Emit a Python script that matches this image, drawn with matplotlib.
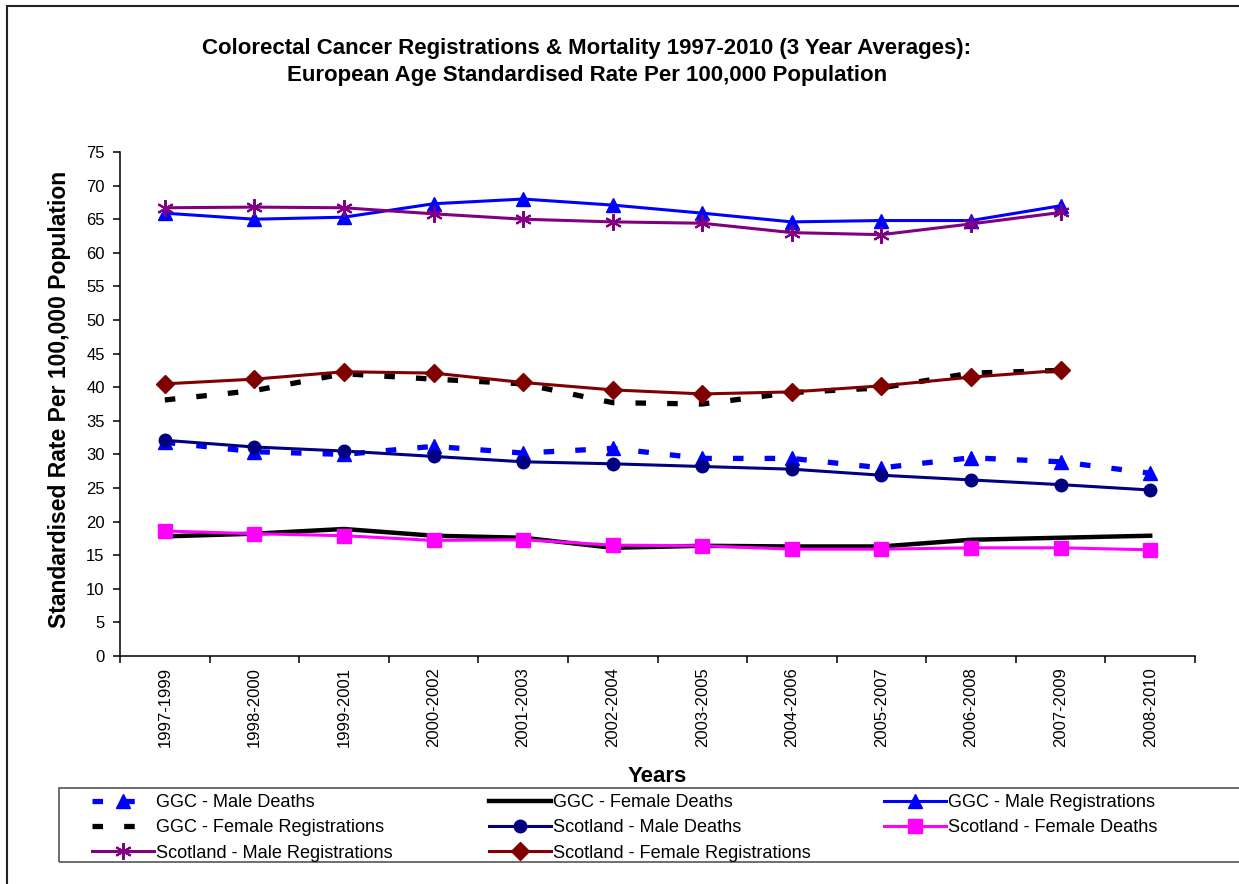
import matplotlib.pyplot as plt
import numpy as np
from matplotlib.patches import Rectangle

plt.rcParams['font.family'] = ['Liberation Sans', 'DejaVu Sans']

years = ['1997-1999', '1998-2000', '1999-2001', '2000-2002', '2001-2003', '2002-2004',
         '2003-2005', '2004-2006', '2005-2007', '2006-2008', '2007-2009', '2008-2010']

ggc_male_deaths = [31.8, 30.4, 30.0, 31.2, 30.2, 30.9, 29.4, 29.4, 28.0, 29.5, 28.9, 27.2]
ggc_female_deaths = [17.8, 18.2, 18.9, 17.9, 17.6, 16.1, 16.4, 16.3, 16.3, 17.3, 17.6, 17.9]
ggc_male_reg = [65.9, 65.0, 65.3, 67.3, 68.0, 67.1, 65.9, 64.6, 64.8, 64.8, 67.0]
ggc_female_reg = [38.1, 39.5, 42.0, 41.2, 40.5, 37.7, 37.5, 39.2, 39.9, 42.1, 42.5]
scot_male_deaths = [32.1, 31.1, 30.5, 29.7, 28.9, 28.6, 28.2, 27.8, 26.9, 26.2, 25.5, 24.7]
scot_female_deaths = [18.6, 18.2, 17.9, 17.2, 17.3, 16.5, 16.4, 15.9, 15.9, 16.1, 16.1, 15.8]
scot_male_reg = [66.7, 66.8, 66.7, 65.8, 65.0, 64.6, 64.4, 63.0, 62.7, 64.3, 66.0]
scot_female_reg = [40.5, 41.2, 42.3, 42.1, 40.7, 39.6, 39.0, 39.3, 40.2, 41.5, 42.5]

W, H = 1239, 884
fig = plt.figure(figsize=(W / 100, H / 100), dpi=100)
ax = fig.add_axes([120 / W, 1 - 656 / H, 1075 / W, 504 / H])

x = np.arange(len(years))
h = []
h += ax.plot(x[:len(ggc_male_deaths)], ggc_male_deaths, color='#0000FF', lw=3.8, dashes=(2, 4),
             dash_capstyle='butt', marker='^', ms=10, label='GGC - Male Deaths')
h += ax.plot(x[:len(ggc_female_deaths)], ggc_female_deaths, color='black', lw=3.2,
             label='GGC - Female Deaths')
h += ax.plot(x[:len(ggc_male_reg)], ggc_male_reg, color='#0000FF', lw=2.2, marker='^', ms=10,
             label='GGC - Male Registrations')
h += ax.plot(x[:len(ggc_female_reg)], ggc_female_reg, color='black', lw=3.8, dashes=(2, 4),
             dash_capstyle='butt', label='GGC - Female Registrations')
h += ax.plot(x[:len(scot_male_deaths)], scot_male_deaths, color='#000080', lw=2.2, marker='o', ms=9,
             label='Scotland - Male Deaths')
h += ax.plot(x[:len(scot_female_deaths)], scot_female_deaths, color='#FF00FF', lw=2.2, marker='s', ms=10,
             label='Scotland - Female Deaths')
h += ax.plot(x[:len(scot_male_reg)], scot_male_reg, color='#800080', lw=2.2, marker=(6, 2, 0), ms=12,
             mew=1.5, label='Scotland - Male Registrations')
h += ax.plot(x[:len(scot_female_reg)], scot_female_reg, color='#800000', lw=2.2, marker='D', ms=9,
             label='Scotland - Female Registrations')

ax.set_xlim(-0.5, len(years) - 0.5)
ax.set_ylim(0, 75)
ax.set_yticks(np.arange(0, 76, 5))
ax.tick_params(axis='y', direction='out', length=5, width=1.1, pad=6, labelsize=12)
ax.set_xticks(np.arange(-0.5, len(years), 1))
ax.set_xticklabels([])
ax.tick_params(axis='x', which='major', direction='out', length=5, width=1.1)
ax.set_xticks(x, minor=True)
ax.set_xticklabels(years, minor=True, rotation=90, fontsize=12)
ax.tick_params(axis='x', which='minor', length=0, pad=8)
for s in ['top', 'right']:
    ax.spines[s].set_visible(False)
for s in ['left', 'bottom']:
    ax.spines[s].set_linewidth(1.1)

fig.text(587 / W, 1 - 62 / H,
         'Colorectal Cancer Registrations & Mortality 1997-2010 (3 Year Averages):\n'
         'European Age Standardised Rate Per 100,000 Population',
         ha='center', va='center', fontsize=16, fontweight='bold', linespacing=1.4)
fig.text(60 / W, 1 - 399 / H, 'Standardised Rate Per 100,000 Population', rotation=90,
         ha='center', va='center', fontsize=16.5, fontweight='bold')
fig.text(657 / W, 1 - 777 / H, 'Years', ha='center', va='center', fontsize=16, fontweight='bold')

# legend box + outer chart border
fig.add_artist(Rectangle((59 / W, 1 - 862 / H), 1200 / W, 74 / H, transform=fig.transFigure,
                         fill=False, edgecolor='#555555', lw=1.2))
fig.add_artist(Rectangle((7 / W, -0.05), 1.1, 1 - 6 / H + 0.05, transform=fig.transFigure,
                         fill=False, edgecolor='#222222', lw=1.5))

cols = [[h[0], h[3], h[6]], [h[1], h[4], h[7]], [h[2], h[5]]]
col_x = [92, 489, 884]
for hs, cx in zip(cols, col_x):
    leg = fig.legend(handles=hs, loc='upper left', bbox_to_anchor=(cx / W, 1 - 794 / H),
                     bbox_transform=fig.transFigure, frameon=False, borderpad=0, borderaxespad=0,
                     handlelength=3.4, handletextpad=0.1, labelspacing=0.46, fontsize=13.1,
                     numpoints=1)

fig.savefig('out.png', dpi=100)
